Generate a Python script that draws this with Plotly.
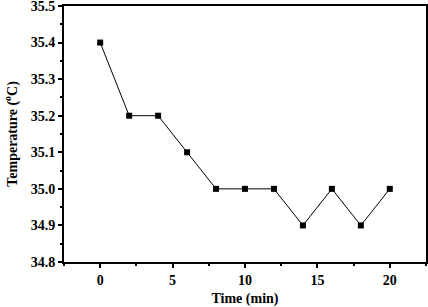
import plotly.graph_objects as go

time_min = [0, 2, 4, 6, 8, 10, 12, 14, 16, 18, 20]
temperature = [35.4, 35.2, 35.2, 35.1, 35.0, 35.0, 35.0, 34.9, 35.0, 34.9, 35.0]
x_ticks = [0, 5, 10, 15, 20]
y_ticks = [34.8, 34.9, 35.0, 35.1, 35.2, 35.3, 35.4, 35.5]
y_tick_labels = ["34.8", "34.9", "35.0", "35.1", "35.2", "35.3", "35.4", "35.5"]

FONT = "Liberation Serif"

fig = go.Figure()
fig.add_trace(go.Scatter(
    x=time_min, y=temperature, mode="lines+markers",
    line=dict(color="black", width=1),
    marker=dict(symbol="square", size=6, color="black"),
    showlegend=False,
))

fig.update_layout(
    width=428, height=307,
    margin=dict(l=64, r=2, t=6, b=45),
    plot_bgcolor="white", paper_bgcolor="white",
    font=dict(family=FONT, size=14, color="black"),
)
fig.update_xaxes(
    range=[-2.5, 22.5], tickvals=x_ticks, ticktext=[f"<b>{v}</b>" for v in x_ticks],
    ticks="outside", ticklen=4, tickwidth=1.5, tickcolor="black",
    minor=dict(dtick=2.5, tick0=0, ticks="outside", ticklen=2, tickcolor="black"),
    showline=True, linecolor="black", linewidth=2, mirror=True,
    showgrid=False, zeroline=False, automargin=False,
    tickfont=dict(family=FONT, size=14, color="black"),
    title=dict(text="<b>Time (min)</b>", font=dict(family=FONT, size=14), standoff=8),
)
fig.update_yaxes(
    range=[34.8, 35.5], tickvals=y_ticks, ticktext=[f"<b>{t}</b>" for t in y_tick_labels],
    ticks="outside", ticklen=4, tickwidth=1.5, tickcolor="black",
    minor=dict(dtick=0.05, tick0=34.8, ticks="outside", ticklen=2, tickcolor="black"),
    showline=True, linecolor="black", linewidth=2, mirror=True,
    showgrid=False, zeroline=False, automargin=False,
    ticklabeloverflow="allow",
    tickfont=dict(family=FONT, size=14, color="black"),
    title=dict(text="<b>Temperature (<sup>o</sup>C)</b>", font=dict(family=FONT, size=14), standoff=10),
)

fig.write_html("out.html", config={"displayModeBar": False},
               post_script="document.body.style.margin='0';")
